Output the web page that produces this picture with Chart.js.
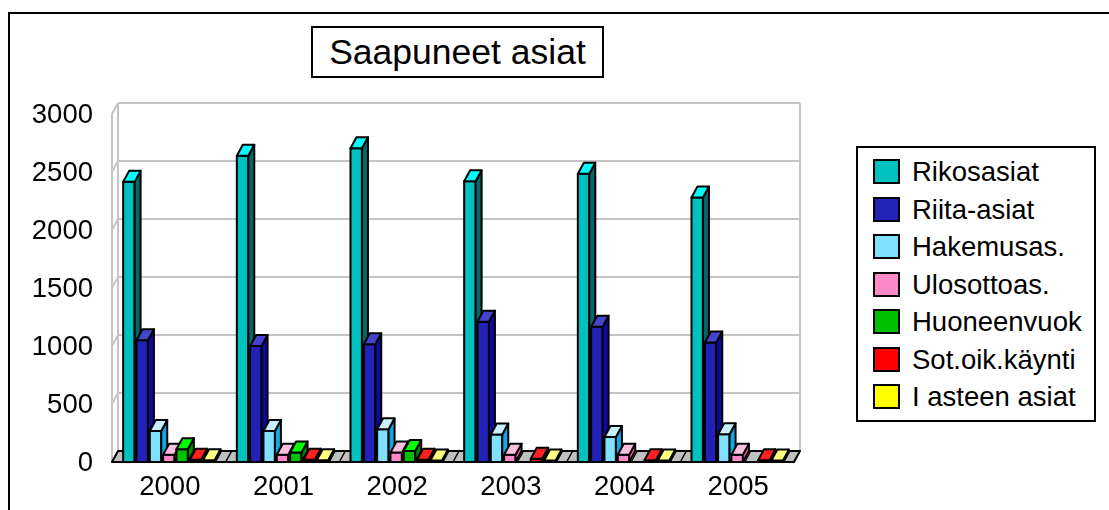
<!DOCTYPE html>
<html>
<head>
<meta charset="utf-8">
<script src="https://cdn.jsdelivr.net/npm/chart.js@4/dist/chart.umd.min.js"></script>
<style>
  html, body { margin: 0; padding: 0; background: #fff; }
  body { width: 1109px; height: 510px; overflow: hidden; position: relative; font-family: "Liberation Sans", Arial, sans-serif; }
  #frame { position: absolute; left: 8px; top: 12px; width: 1200px; height: 600px; border-left: 2px solid #000; border-top: 2px solid #000; }
  #c { position: absolute; left: 0; top: 0; }
  #title { position: absolute; left: 311px; top: 26px; width: 293px; height: 52px; box-sizing: border-box; border: 2px solid #000; background: #fff;
           font-size: 35.5px; line-height: 48px; text-align: center; color: #000; white-space: nowrap; }
  #legend { position: absolute; left: 856px; top: 146px; width: 240px; height: 276px; box-sizing: border-box; border: 2px solid #000; background: #fff; }
  .item { position: absolute; left: 0; height: 30px; }
  .sw { position: absolute; left: 15px; top: 2px; width: 27px; height: 25px; box-sizing: border-box; border: 2px solid #000; }
  .tx { position: absolute; left: 54px; top: 0; font-size: 27.5px; line-height: 30px; white-space: nowrap; color: #000; }
</style>
</head>
<body>
<div id="frame"></div>
<canvas id="c" width="1109" height="510"></canvas>
<div id="title">Saapuneet asiat</div>
<div id="legend"></div>
<script>
// ---- data ----
const categories = ['2000', '2001', '2002', '2003', '2004', '2005'];
const seriesNames = ['Rikosasiat', 'Riita-asiat', 'Hakemusas.', 'Ulosottoas.', 'Huoneenvuok', 'Sot.oik.käynti', 'I asteen asiat'];
const rikosasiat    = [2415, 2640, 2705, 2420, 2485, 2280];
const riitaAsiat    = [1050, 1000, 1015, 1210, 1165, 1030];
const hakemusasiat  = [268, 268, 282, 237, 216, 239];
const ulosottoasiat = [63, 63, 81, 63, 63, 63];
const huoneenvuok   = [110, 82, 95, 0, 0, 0];
const sotOikKaynti  = [20, 20, 20, 28, 15, 15];
const iAsteenAsiat  = [15, 15, 12, 12, 12, 12];
const yTickValues   = [0, 500, 1000, 1500, 2000, 2500, 3000];
const yTickLabels   = ['0', '500', '1000', '1500', '2000', '2500', '3000'];

// ---- styles ----
const seriesValues = [rikosasiat, riitaAsiat, hakemusasiat, ulosottoasiat, huoneenvuok, sotOikKaynti, iAsteenAsiat];
const frontColors = ['#00C0C0', '#2222B8', '#80E0FF', '#FF88C8', '#00C000', '#FF0000', '#FFFF00'];
const topColors   = ['#00FFFF', '#4444CC', '#C8F0FF', '#FFC0E0', '#00FF00', '#FF2020', '#FFFF80'];
const sideColors  = ['#006868', '#0A0AA0', '#10A8E0', '#FF5CA8', '#008800', '#C00000', '#C8C800'];
const DX = 6, DY = 11;

// legend (HTML)
const legendEl = document.getElementById('legend');
seriesNames.forEach((name, i) => {
  const it = document.createElement('div');
  it.className = 'item';
  it.style.top = (9.3 + 37.5 * i) + 'px';
  const sw = document.createElement('div'); sw.className = 'sw'; sw.style.background = frontColors[i];
  const tx = document.createElement('div'); tx.className = 'tx'; tx.textContent = name;
  it.appendChild(sw); it.appendChild(tx); legendEl.appendChild(it);
});

function line(ctx, x1, y1, x2, y2) { ctx.beginPath(); ctx.moveTo(x1, y1); ctx.lineTo(x2, y2); ctx.stroke(); }
function poly(ctx, pts, fill) {
  ctx.beginPath(); ctx.moveTo(pts[0][0], pts[0][1]);
  for (let k = 1; k < pts.length; k++) ctx.lineTo(pts[k][0], pts[k][1]);
  ctx.closePath(); ctx.fillStyle = fill; ctx.fill(); ctx.stroke();
}

const box3d = {
  id: 'box3d',
  beforeDatasetsDraw(chart) {
    const { ctx, chartArea: a, scales: { x, y } } = chart;
    ctx.save();
    ctx.strokeStyle = '#c4c4c4'; ctx.lineWidth = 2;
    yTickValues.forEach(v => {
      const py = y.getPixelForValue(v);
      if (v > 0) line(ctx, a.left + DX, py - DY, a.right + DX, py - DY);
      line(ctx, a.left, py, a.left + DX, py - DY);
    });
    const yTop = y.getPixelForValue(yTickValues[yTickValues.length - 1]);
    const y0 = y.getPixelForValue(0);
    line(ctx, a.left, yTop, a.left, y0);
    line(ctx, a.left + DX, yTop - DY, a.left + DX, y0 - DY);
    line(ctx, a.right + DX, yTop - DY, a.right + DX, y0 - DY);
    // floor
    ctx.strokeStyle = '#000'; ctx.lineWidth = 2; ctx.lineJoin = 'round';
    poly(ctx, [[a.left, y0], [a.right, y0], [a.right + DX, y0 - DY], [a.left + DX, y0 - DY]], '#C0C0C0');
    // floor dividers at category edges and bar slot edges
    ctx.lineWidth = 1.5;
    const edges = [];
    categories.forEach((c, i) => {
      const cx = x.getPixelForValue(i);
      const half = (a.right - a.left) / categories.length / 2;
      edges.push(cx - half);
      seriesValues.forEach((s, j) => {
        const el = chart.getDatasetMeta(j).data[i];
        if (el) { edges.push(el.x - el.width / 2); if (j === seriesValues.length - 1) edges.push(el.x + el.width / 2 + 1); }
      });
    });
    edges.forEach(ex => line(ctx, ex, y0, ex + DX, y0 - DY));
    ctx.restore();
  },
  afterDatasetsDraw(chart) {
    const { ctx } = chart;
    ctx.save();
    ctx.strokeStyle = '#000'; ctx.lineWidth = 2; ctx.lineJoin = 'round';
    for (let i = 0; i < categories.length; i++) {
      for (let j = 0; j < seriesValues.length; j++) {
        const v = chart.data.datasets[j].data[i];
        if (!v) continue;
        const el = chart.getDatasetMeta(j).data[i];
        const p = el.getProps(['x', 'y', 'base', 'width'], true);
        const l = p.x - p.width / 2, r = p.x + p.width / 2, t = p.y, b = p.base;
        poly(ctx, [[l, t], [r, t], [r, b], [l, b]], frontColors[j]);
        poly(ctx, [[r, t], [r + DX, t - DY], [r + DX, b - DY], [r, b]], sideColors[j]);
        poly(ctx, [[l, t], [l + DX, t - DY], [r + DX, t - DY], [r, t]], topColors[j]);
      }
    }
    ctx.restore();
  }
};

Chart.defaults.font.family = '"Liberation Sans", Arial, sans-serif';
Chart.defaults.color = '#000';

new Chart(document.getElementById('c'), {
  type: 'bar',
  data: {
    labels: categories,
    datasets: seriesNames.map((name, i) => ({
      label: name,
      data: seriesValues[i],
      backgroundColor: frontColors[i],
      borderWidth: 0,
      categoryPercentage: 0.82,
      barPercentage: 0.86
    }))
  },
  options: {
    responsive: false,
    animation: false,
    layout: { padding: { left: 0, top: 114, right: 1109 - 794, bottom: 0 } },
    plugins: { legend: { display: false }, title: { display: false }, tooltip: { enabled: false } },
    scales: {
      x: {
        grid: { display: false, drawTicks: false },
        border: { display: false },
        ticks: { font: { size: 27.5 }, padding: 9, labelOffset: 1, color: '#000' },
        afterFit: (s) => { s.height = 510 - 462; }
      },
      y: {
        min: 0, max: 3000,
        grid: { display: false, drawTicks: false },
        border: { display: false },
        afterBuildTicks: (s) => { s.ticks = yTickValues.map(v => ({ value: v })); },
        ticks: {
          font: { size: 27.5 }, padding: 19, labelOffset: 1, color: '#000',
          callback: (v) => yTickLabels[yTickValues.indexOf(v)]
        },
        afterFit: (s) => { s.width = 112; }
      }
    }
  },
  plugins: [box3d]
});
</script>
</body>
</html>
